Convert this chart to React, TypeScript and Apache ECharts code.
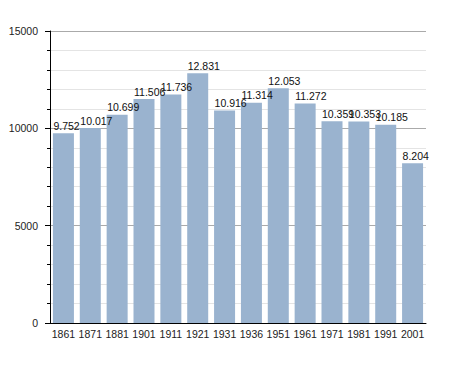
import React, { useEffect, useRef } from "react";
import * as echarts from "echarts";

const years = ["1861", "1871", "1881", "1901", "1911", "1921", "1931", "1936", "1951", "1961", "1971", "1981", "1991", "2001"];
const population = [9752, 10017, 10699, 11506, 11736, 12831, 10916, 11314, 12053, 11272, 10359, 10353, 10185, 8204];
const yTicks = [0, 5000, 10000, 15000];

function fmt(v: number): string {
  const s = String(Math.round(v));
  return s.replace(/\B(?=(\d{3})+(?!\d))/g, ".");
}

const FONT = "Liberation Sans, Arial, sans-serif";

export default function App() {
  const ref = useRef<HTMLDivElement>(null);
  useEffect(() => {
    if (!ref.current) return;
    const chart = echarts.init(ref.current, undefined, { renderer: "svg" });
    chart.setOption({
      animation: false,
      backgroundColor: "#ffffff",
      grid: { left: 50, top: 31, right: 29, bottom: 50, containLabel: false },
      xAxis: {
        type: "category",
        data: years,
        axisLine: { show: true, lineStyle: { color: "#000", width: 1 } },
        axisTick: { show: false },
        axisLabel: { color: "#222", fontSize: 10.5, fontFamily: FONT, margin: 5, interval: 0 },
      },
      yAxis: {
        type: "value",
        min: yTicks[0],
        max: yTicks[yTicks.length - 1],
        interval: 5000,
        axisLine: { show: true, lineStyle: { color: "#000", width: 1 } },
        axisTick: { show: true, length: 5, lineStyle: { color: "#000" } },
        minorTick: { show: true, splitNumber: 5, length: 3, lineStyle: { color: "#000" } },
        axisLabel: { color: "#222", fontSize: 10.5, fontFamily: FONT, margin: 12, formatter: (v: number) => String(v) },
        splitLine: { show: true, lineStyle: { color: "#aaaaaa", width: 1 } },
        minorSplitLine: { show: true, lineStyle: { color: "#e4e4e4", width: 1 } },
      },
      series: [
        {
          type: "bar",
          data: population,
          barWidth: 21,
          itemStyle: { color: "#9ab3cf" },
          label: {
            show: true,
            position: "top",
            align: "left",
            offset: [-10, 0],
            distance: 2,
            color: "#111",
            fontSize: 10.5,
            fontFamily: FONT,
            formatter: (p: any) => fmt(p.value),
          },
        },
      ],
    });
    return () => chart.dispose();
  }, []);
  return <div ref={ref} style={{ position: "fixed", left: 0, top: 0, width: 455, height: 373 }} />;
}
